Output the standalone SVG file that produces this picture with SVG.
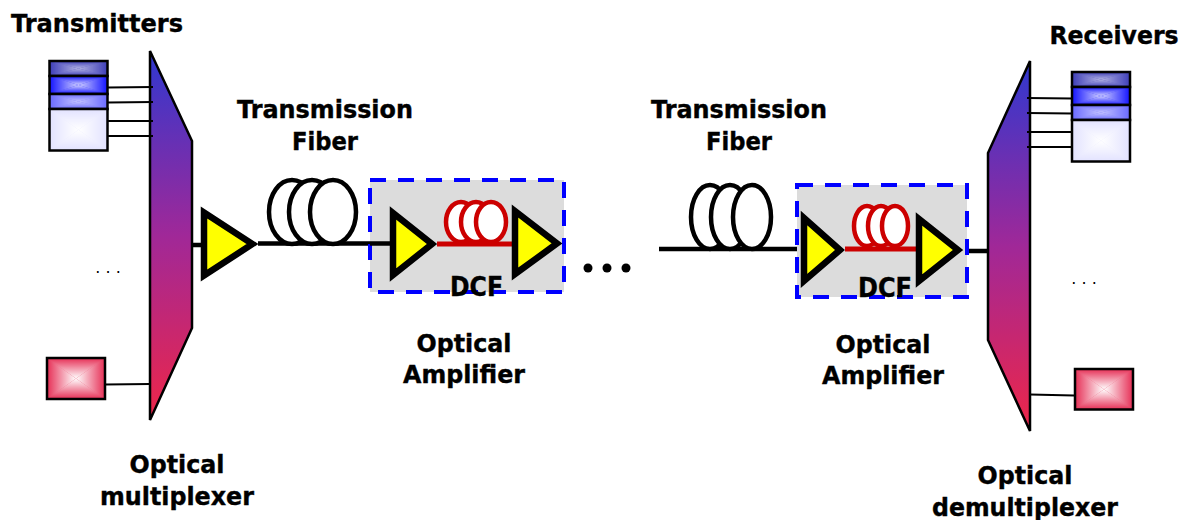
<svg xmlns="http://www.w3.org/2000/svg" width="1186" height="520" viewBox="0 0 1186 520">
<style>
text{font-family:"DejaVu Sans","Liberation Sans",sans-serif;font-weight:700;font-size:25px;fill:#000;stroke:#000;stroke-width:0.4;text-anchor:middle}
.dots{font-weight:400;font-size:16px;stroke:none}
.wire{stroke:#000;stroke-width:2;fill:none}
.fiber{stroke:#000;stroke-width:4.500;fill:none}
.red{stroke:#cc0000;stroke-width:5;fill:none}
.coil{fill:#fff;stroke:#000;stroke-width:4.500}
.rcoil{fill:#fff;stroke:#cc0000;stroke-width:4.500}
.amp{fill:#ffff00;stroke:#000;stroke-width:6.500}
.box{fill:#dcdcdc;stroke:#0000ff;stroke-width:4;stroke-dasharray:16 12}
.mux{fill:url(#muxg);stroke:#000;stroke-width:2.500}
.bd{fill:none;stroke:#000;stroke-width:2.500}
.dcf{font-size:26px}
</style>
<defs>
<linearGradient id="muxg" x1="0" y1="0" x2="0" y2="1"><stop offset="0" stop-color="#2f38d0"/><stop offset="0.5" stop-color="#a02898"/><stop offset="1" stop-color="#ee2648"/></linearGradient>
<linearGradient id="gt" x1="0" y1="0" x2="0" y2="1"><stop offset="0" stop-color="#fff" stop-opacity="0"/><stop offset="1" stop-color="#fff"/></linearGradient>
<linearGradient id="gb" x1="0" y1="1" x2="0" y2="0"><stop offset="0" stop-color="#fff" stop-opacity="0"/><stop offset="1" stop-color="#fff"/></linearGradient>
<linearGradient id="gl" x1="0" y1="0" x2="1" y2="0"><stop offset="0" stop-color="#fff" stop-opacity="0"/><stop offset="1" stop-color="#fff"/></linearGradient>
<linearGradient id="gr" x1="1" y1="0" x2="0" y2="0"><stop offset="0" stop-color="#fff" stop-opacity="0"/><stop offset="1" stop-color="#fff"/></linearGradient>
<symbol id="glow" viewBox="0 0 100 100" preserveAspectRatio="none">
<polygon points="0,0 100,0 50,50" fill="url(#gt)"/>
<polygon points="0,100 100,100 50,50" fill="url(#gb)"/>
<polygon points="0,0 0,100 50,50" fill="url(#gl)"/>
<polygon points="100,0 100,100 50,50" fill="url(#gr)"/>
</symbol>
</defs>

<g id="mux"><polygon class="mux" points="150,51 192,141 192,328 150,420"/></g>
<g id="demux"><polygon class="mux" points="1030,61 988,153 988,340 1030,431"/></g>

<g id="connectors">
<path class="wire" d="M108 87.500L153 87M108 102.500L153 102M108 121L153 121M108 136L153 136M105 384.500L150 384"/>
<path class="wire" d="M1027 98L1072 98.500M1027 113L1072 113.500M1027 132L1072 132M1027 147L1072 147M1030 394.500L1074 395.500"/>
<path class="fiber" d="M192 245H204M258 243.500H392M659 249H803M963 251H987"/>
</g>

<g id="transmitters">
<rect x="49.500" y="61" width="58" height="15" fill="#3e3eb8"/><use href="#glow" x="49.500" y="61" width="58" height="15" opacity="0.6"/><rect class="bd" x="49.500" y="61" width="58" height="15"/>
<rect x="49.500" y="76" width="58" height="18" fill="#1414ff"/><use href="#glow" x="49.500" y="76" width="58" height="18" opacity="0.8"/><rect class="bd" x="49.500" y="76" width="58" height="18"/>
<rect x="49.500" y="94" width="58" height="15" fill="#6a6aff"/><use href="#glow" x="49.500" y="94" width="58" height="15" opacity="0.6"/><rect class="bd" x="49.500" y="94" width="58" height="15"/>
<rect x="49.500" y="109" width="58" height="41.500" fill="#e2e2ff"/><use href="#glow" x="49.500" y="109" width="58" height="41.500"/><rect class="bd" x="49.500" y="109" width="58" height="41.500"/>
</g>
<g id="transmitter-red">
<rect x="47" y="358" width="58" height="41" fill="#e62e55"/><use href="#glow" x="47" y="358" width="58" height="41"/><rect class="bd" x="47" y="358" width="58" height="41"/>
</g>
<g id="receivers">
<rect x="1072" y="72" width="58" height="15" fill="#3e3eb8"/><use href="#glow" x="1072" y="72" width="58" height="15" opacity="0.6"/><rect class="bd" x="1072" y="72" width="58" height="15"/>
<rect x="1072" y="87" width="58" height="18" fill="#1414ff"/><use href="#glow" x="1072" y="87" width="58" height="18" opacity="0.8"/><rect class="bd" x="1072" y="87" width="58" height="18"/>
<rect x="1072" y="105" width="58" height="15" fill="#6a6aff"/><use href="#glow" x="1072" y="105" width="58" height="15" opacity="0.6"/><rect class="bd" x="1072" y="105" width="58" height="15"/>
<rect x="1072" y="120" width="58" height="41.500" fill="#e2e2ff"/><use href="#glow" x="1072" y="120" width="58" height="41.500"/><rect class="bd" x="1072" y="120" width="58" height="41.500"/>
</g>
<g id="receiver-red">
<rect x="1075" y="369" width="58" height="40.500" fill="#e62e55"/><use href="#glow" x="1075" y="369" width="58" height="40.500"/><rect class="bd" x="1075" y="369" width="58" height="40.500"/>
</g>

<g id="amp-booster"><polygon class="amp" points="204,212.500 204,275.500 252.500,244"/></g>
<g id="fiber-coil-1">
<ellipse class="coil" cx="292" cy="212" rx="23" ry="32"/><ellipse class="coil" cx="312" cy="212" rx="23" ry="32"/><ellipse class="coil" cx="333" cy="212" rx="23" ry="32"/>
</g>

<g id="amplifier-1">
<rect class="box" x="370" y="180" width="194" height="112"/>
<path class="red" d="M437 244H512"/>
<ellipse class="rcoil" cx="461" cy="222" rx="15" ry="20"/><ellipse class="rcoil" cx="476" cy="222" rx="15" ry="20"/><ellipse class="rcoil" cx="491" cy="222" rx="15" ry="20"/>
<path class="fiber" d="M370 243.500H393"/>
<polygon class="amp" points="393,213 393,275 432,244"/>
<polygon class="amp" points="515,211 515,274 557,243.500"/>
<text class="dcf" x="476.500" y="296" textLength="53" lengthAdjust="spacingAndGlyphs">DCF</text>
</g>

<g id="ellipsis"><circle cx="588" cy="268" r="4.500"/><circle cx="607" cy="268" r="4.500"/><circle cx="626" cy="268" r="4.500"/></g>

<g id="fiber-coil-2">
<ellipse class="coil" cx="710" cy="217" rx="19" ry="32"/><ellipse class="coil" cx="730" cy="217" rx="19" ry="32"/><ellipse class="coil" cx="752" cy="217" rx="19" ry="32"/>
</g>

<g id="amplifier-2">
<rect class="box" x="797" y="185" width="170" height="112"/>
<path class="red" d="M845 249H916"/>
<ellipse class="rcoil" cx="867" cy="226" rx="13" ry="20"/><ellipse class="rcoil" cx="881" cy="226" rx="13" ry="20"/><ellipse class="rcoil" cx="895" cy="226" rx="13" ry="20"/>
<polygon class="amp" points="804,218 804,281 840,250"/>
<polygon class="amp" points="919,219 919,281 958,250"/>
<text class="dcf" x="885" y="297" textLength="54" lengthAdjust="spacingAndGlyphs">DCF</text>
</g>

<g id="labels">
<text x="97" y="32" textLength="172" lengthAdjust="spacingAndGlyphs">Transmitters</text>
<text x="1114" y="44" textLength="129" lengthAdjust="spacingAndGlyphs">Receivers</text>
<text x="325" y="118" textLength="176" lengthAdjust="spacingAndGlyphs">Transmission</text>
<text x="325" y="150" textLength="66" lengthAdjust="spacingAndGlyphs">Fiber</text>
<text x="739" y="118" textLength="176" lengthAdjust="spacingAndGlyphs">Transmission</text>
<text x="739" y="150" textLength="66" lengthAdjust="spacingAndGlyphs">Fiber</text>
<text x="464" y="352" textLength="95" lengthAdjust="spacingAndGlyphs">Optical</text>
<text x="464" y="383" textLength="122" lengthAdjust="spacingAndGlyphs">Amplifier</text>
<text x="883" y="353" textLength="95" lengthAdjust="spacingAndGlyphs">Optical</text>
<text x="883" y="384" textLength="122" lengthAdjust="spacingAndGlyphs">Amplifier</text>
<text x="177" y="473" textLength="95" lengthAdjust="spacingAndGlyphs">Optical</text>
<text x="177" y="505" textLength="154" lengthAdjust="spacingAndGlyphs">multiplexer</text>
<text x="1025" y="484" textLength="95" lengthAdjust="spacingAndGlyphs">Optical</text>
<text x="1025" y="516" textLength="186" lengthAdjust="spacingAndGlyphs">demultiplexer</text>
<text class="dots" x="108" y="273">. . .</text>
<text class="dots" x="1084" y="284">. . .</text>
</g>
</svg>
